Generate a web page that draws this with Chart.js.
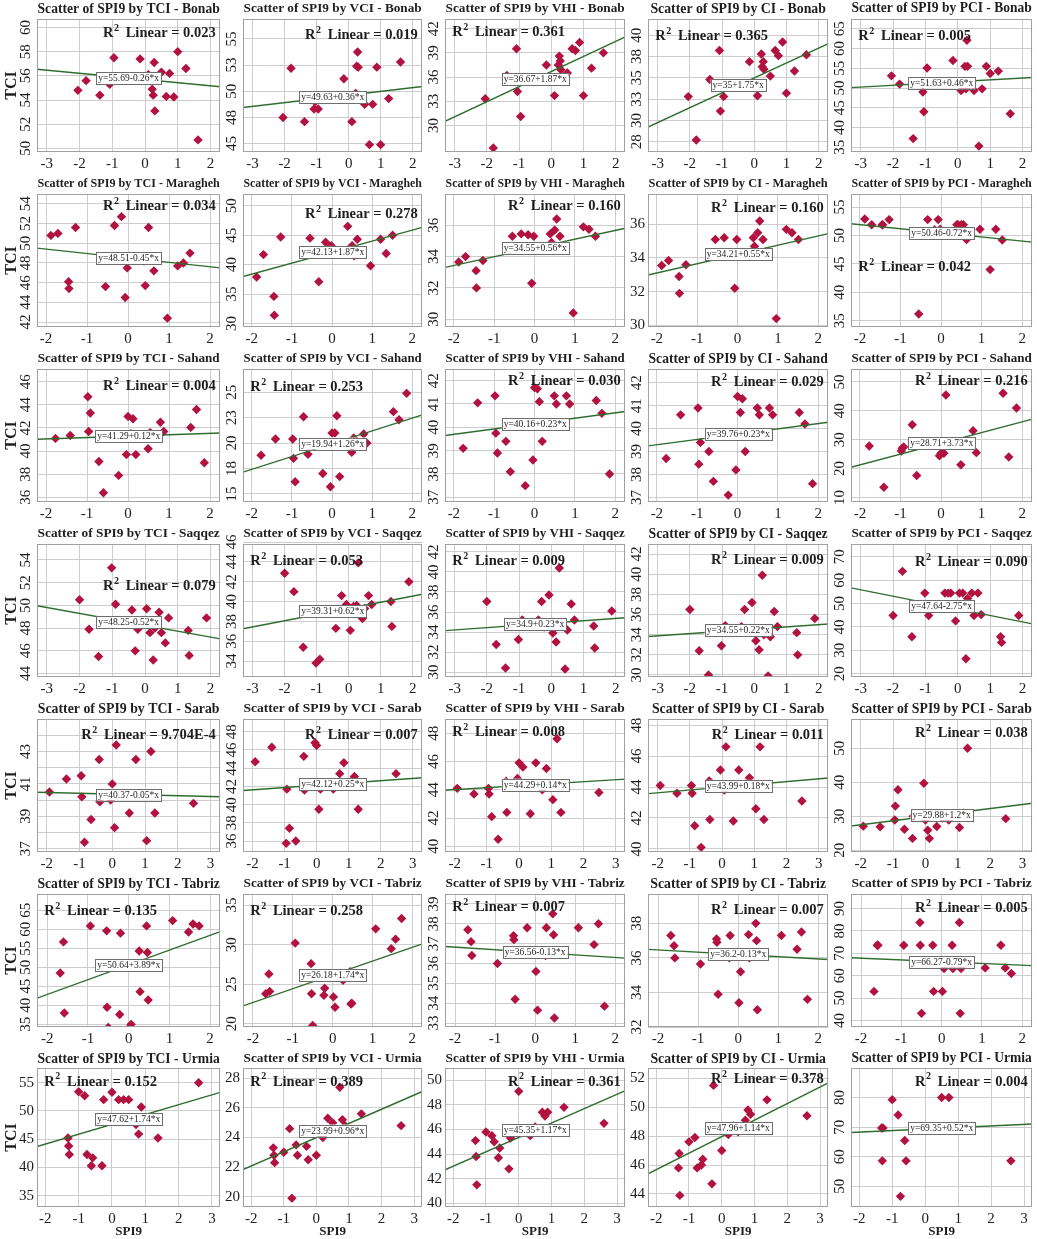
<!DOCTYPE html>
<html>
<head>
<meta charset="utf-8">
<script src="https://cdn.jsdelivr.net/npm/chart.js@4.4.0/dist/chart.umd.min.js"></script>
<style>
  html, body { margin: 0; padding: 0; background: #fff; }
  #grid { position: relative; width: 1037px; height: 1239px; }
  .cell { position: absolute; }
</style>
</head>
<body>
<div id="grid"></div>
<script>
const stations = ['Bonab', 'Maragheh', 'Sahand', 'Saqqez', 'Sarab', 'Tabriz', 'Urmia'];
const indices = ['TCI', 'VCI', 'VHI', 'CI', 'PCI'];

// SPI9 values (x) per station
const spiBonab = [-2.05, -1.8, -1.38, -1.08, -1.05, -0.95, -0.15, 0.1, 0.22, 0.25, 0.28, 0.3, 0.5, 0.65, 0.75, 0.88, 1.0, 1.25, 1.62];
const spiMaragheh = [-1.88, -1.71, -1.45, -1.44, -1.28, -0.55, -0.33, -0.16, -0.07, -0.02, 0.39, 0.42, 0.5, 0.55, 0.63, 0.96, 1.21, 1.35, 1.51];
const spiSahand = [-1.77, -1.41, -0.98, -0.96, -0.92, -0.71, -0.6, -0.23, -0.04, 0.0, 0.07, 0.12, 0.19, 0.49, 0.54, 0.79, 0.87, 1.53, 1.67, 1.86];
const spiSaqqez = [-2.0, -1.71, -1.42, -1.02, -0.9, -0.4, -0.3, -0.22, -0.07, 0.05, 0.15, 0.25, 0.3, 0.43, 0.5, 0.62, 0.72, 1.32, 1.35, 1.88];
const spiSarab = [-1.92, -1.4, -0.95, -0.93, -0.85, -0.65, -0.4, -0.38, -0.05, 0.0, 0.07, 0.12, 0.35, 0.52, 0.72, 0.85, 1.05, 1.18, 1.3, 2.48];
const spiTabriz = [-1.68, -1.6, -1.58, -0.94, -0.54, -0.53, -0.5, -0.22, -0.2, 0.02, 0.06, 0.26, 0.28, 0.44, 0.46, 0.48, 1.08, 1.47, 1.58, 1.73];
const spiUrmia = [-1.32, -1.3, -1.28, -1.0, -0.82, -0.75, -0.62, -0.58, -0.3, -0.25, 0.0, 0.2, 0.35, 0.5, 0.72, 0.8, 0.88, 1.38, 2.6];

// index values (y), same order as the station's SPI9 list
const tciBonab = [54.8, 55.6, 54.4, 55.3, 55.5, 57.5, 57.4, 56.1, 54.9, 54.4, 57.1, 53.1, 56.3, 54.3, 56.2, 54.25, 58.0, 56.6, 50.7];
const vciBonab = [47.5, 52.2, 47.1, 48.3, 49.0, 48.3, 51.2, 47.1, 49.8, 52.4, 53.75, 52.3, 48.75, 44.9, 48.75, 52.3, 44.9, 49.3, 52.8];
const vhiBonab = [33.3, 27.2, 36.2, 39.5, 34.2, 31.1, 37.5, 33.7, 37.5, 38.6, 38.0, 36.9, 36.5, 39.5, 39.3, 40.3, 33.7, 37.1, 39.0];
const ciBonab = [32.8, 27.7, 34.8, 38.2, 31.1, 32.8, 36.9, 32.9, 37.8, 36.3, 36.9, 36.0, 35.2, 38.2, 37.6, 39.2, 33.2, 35.8, 37.7];
const pciBonab = [53.1, 51.0, 37.2, 49.0, 44.0, 55.1, 57.0, 49.4, 55.5, 49.8, 62.1, 55.5, 49.4, 35.3, 49.8, 55.5, 53.7, 54.3, 43.5];

const tciMaragheh = [50.8, 51.0, 46.1, 45.4, 51.6, 45.6, 51.8, 52.7, 44.5, 47.5, 48.2, 45.7, 51.6, 48.3, 47.2, 42.4, 47.7, 48.0, 49.0];
const vciMaragheh = [37.9, 41.7, 34.6, 31.4, 44.7, 44.5, 37.1, 43.8, 42.5, 43.2, 46.5, 42.6, 43.2, 41.5, 44.3, 39.8, 44.3, 41.9, 45.0];
const vhiMaragheh = [33.65, 34.0, 33.1, 32.0, 33.75, 35.3, 35.45, 35.4, 32.3, 35.3, 35.45, 34.9, 35.7, 36.4, 35.3, 30.4, 35.9, 35.75, 35.3];
const ciMaragheh = [33.55, 33.85, 32.9, 31.9, 33.6, 35.1, 35.2, 34.1, 32.2, 35.1, 35.2, 34.7, 35.5, 36.2, 35.1, 30.4, 35.7, 35.5, 35.1];
const pciMaragheh = [52.9, 51.9, 51.9, 51.9, 52.8, 36.2, 52.8, 51.0, 52.8, 51.1, 51.9, 51.9, 51.9, 51.9, 49.3, 51.1, 44.0, 51.1, 49.2];

const tciSahand = [41.1, 41.35, 44.7, 41.7, 43.3, 39.1, 36.4, 37.9, 39.7, 43.0, 41.5, 42.8, 39.7, 40.2, 41.6, 42.5, 41.7, 42.05, 43.6, 39.0];
const vciSahand = [18.8, 20.4, 20.4, 18.5, 16.2, 22.6, 18.9, 17.0, 15.7, 21.0, 21.0, 22.7, 16.7, 19.1, 20.5, 20.9, 20.0, 23.1, 22.3, 24.9];
const vhiSahand = [39.1, 41.05, 41.35, 39.75, 38.9, 39.4, 38.1, 37.5, 38.6, 41.7, 41.65, 41.1, 39.4, 41.35, 41.0, 41.35, 41.0, 41.15, 40.6, 38.0];
const ciSahand = [38.7, 40.6, 40.9, 38.45, 39.4, 39.0, 37.7, 37.1, 38.2, 41.4, 40.7, 41.3, 39.0, 40.9, 40.6, 40.9, 40.6, 40.7, 40.2, 37.6];
const pciSahand = [27.8, 13.5, 26.1, 27.0, 27.5, 35.2, 17.6, 29.0, 24.4, 25.3, 25.3, 45.5, 28.5, 21.3, 28.0, 33.1, 25.5, 46.1, 24.0, 41.0];

const tciSaqqez = [50.5, 47.9, 45.5, 53.3, 50.1, 49.6, 46.0, 47.9, 48.5, 49.7, 47.6, 45.2, 48.0, 49.4, 47.6, 46.7, 48.9, 47.8, 45.6, 48.9];
const vciSaqqez = [42.85, 41.0, 35.4, 33.8, 34.2, 37.3, 39.0, 40.6, 39.7, 37.1, 39.5, 39.6, 43.9, 38.3, 39.3, 40.6, 39.7, 40.0, 37.5, 42.0];
const vhiSaqqez = [37.05, 32.75, 30.4, 33.25, 35.2, 35.2, 37.05, 34.5, 37.7, 33.9, 33.0, 40.4, 34.8, 30.3, 34.2, 36.8, 35.2, 34.6, 32.4, 36.1];
const ciSaqqez = [36.5, 32.4, 30.0, 32.9, 34.9, 34.8, 36.5, 34.4, 37.2, 33.4, 32.5, 39.9, 34.0, 29.9, 33.8, 36.3, 34.8, 34.2, 32.0, 35.6];
const pciSaqqez = [44.9, 63.8, 35.8, 54.5, 44.9, 54.5, 54.5, 54.5, 42.6, 54.5, 54.5, 26.4, 52.2, 54.5, 44.9, 54.5, 45.3, 35.8, 33.4, 44.9];

const tciSarab = [40.5, 41.3, 41.5, 40.2, 37.4, 38.8, 42.5, 39.9, 40.0, 41.0, 38.3, 43.4, 40.3, 39.2, 42.5, 40.4, 37.5, 43.0, 39.2, 39.8];
const vciSarab = [44.7, 46.3, 35.75, 41.7, 37.4, 36.0, 45.3, 41.6, 46.8, 46.5, 39.5, 41.7, 42.3, 41.7, 43.4, 44.6, 42.5, 43.1, 39.5, 43.4];
const vhiSarab = [44.1, 43.7, 44.1, 43.7, 42.1, 40.5, 44.6, 42.4, 44.8, 45.9, 44.5, 45.6, 42.3, 45.9, 44.0, 45.5, 43.3, 47.6, 42.4, 43.8];
const ciSarab = [44.1, 43.6, 44.1, 43.6, 41.5, 40.1, 44.4, 41.9, 45.1, 44.0, 43.8, 46.6, 41.8, 45.1, 44.2, 44.6, 42.6, 46.6, 41.9, 43.1];
const pciSarab = [27.1, 26.9, 28.9, 33.0, 37.8, 26.2, 23.5, 30.0, 39.7, 28.9, 25.9, 23.5, 27.0, 29.5, 28.9, 30.5, 26.7, 31.0, 50.0, 29.3];

const tciTabriz = [48.5, 56.7, 38.0, 60.9, 59.6, 39.5, 34.2, 37.6, 59.0, 34.2, 35.0, 54.3, 43.6, 60.9, 53.9, 41.4, 62.3, 59.3, 61.4, 60.9];
const vciTabriz = [23.8, 26.3, 24.1, 30.2, 27.6, 23.8, 19.8, 23.6, 24.5, 23.4, 22.1, 25.5, 26.0, 26.6, 22.5, 22.6, 32.0, 29.5, 30.7, 33.3];
const vhiTabriz = [37.7, 37.1, 36.4, 36.0, 37.4, 37.2, 34.2, 36.5, 37.8, 35.6, 33.65, 36.4, 37.8, 38.5, 37.45, 33.25, 37.8, 36.95, 38.0, 33.85];
const ciTabriz = [37.3, 36.7, 36.0, 35.65, 37.1, 36.9, 33.9, 36.0, 37.3, 33.4, 35.2, 37.35, 36.0, 38.0, 37.0, 33.0, 37.3, 36.5, 37.5, 33.6];
const pciTabriz = [53.0, 73.6, 73.6, 73.6, 83.8, 73.6, 43.2, 73.6, 53.0, 53.0, 63.2, 73.6, 63.2, 83.8, 43.2, 63.2, 63.5, 73.6, 63.5, 61.0];

const tciUrmia = [45.2, 43.8, 42.3, 53.4, 52.7, 42.3, 40.3, 41.7, 40.3, 52.0, 53.3, 52.0, 52.0, 52.0, 47.6, 45.9, 50.7, 45.2, 55.0];
const vciUrmia = [23.3, 22.8, 22.3, 23.0, 24.6, 19.9, 23.5, 22.8, 23.4, 22.5, 22.8, 24.0, 25.3, 25.0, 27.4, 25.2, 24.8, 25.6, 24.8];
const vhiUrmia = [45.1, 43.8, 41.5, 45.8, 45.5, 45.0, 43.7, 44.5, 42.8, 45.3, 49.1, 46.0, 45.5, 46.2, 47.4, 47.1, 47.4, 47.8, 46.5];
const ciUrmia = [45.8, 46.8, 43.9, 47.6, 47.9, 45.8, 46.0, 46.4, 44.7, 51.5, 47.0, 48.1, 48.7, 48.3, 49.1, 49.8, 49.5, 50.5, 49.4];
const pciUrmia = [69.7, 58.6, 69.7, 79.3, 74.1, 46.6, 65.5, 58.6, 69.7, 69.7, 69.7, 70.0, 69.7, 80.0, 80.0, 69.7, 69.7, 69.7, 58.6];

// linear fits [intercept, slope] and R² text, order TCI, VCI, VHI, CI, PCI
const fitBonab = [[55.69, -0.26], [49.63, 0.36], [36.67, 1.87], [35, 1.75], [51.63, 0.46]];
const fitMaragheh = [[48.51, -0.45], [42.13, 1.87], [34.55, 0.56], [34.21, 0.55], [50.46, -0.72]];
const fitSahand = [[41.29, 0.12], [19.94, 1.26], [40.16, 0.23], [39.76, 0.23], [28.71, 3.73]];
const fitSaqqez = [[48.25, -0.52], [39.31, 0.62], [34.9, 0.23], [34.55, 0.22], [47.64, -2.75]];
const fitSarab = [[40.37, -0.05], [42.12, 0.25], [44.29, 0.14], [43.99, 0.18], [29.88, 1.2]];
const fitTabriz = [[50.64, 3.89], [26.18, 1.74], [36.56, -0.13], [36.2, -0.13], [66.27, -0.79]];
const fitUrmia = [[47.62, 1.74], [23.99, 0.96], [45.35, 1.17], [47.96, 1.14], [69.35, 0.52]];

const r2Bonab = ['0.023', '0.019', '0.361', '0.365', '0.005'];
const r2Maragheh = ['0.034', '0.278', '0.160', '0.160', '0.042'];
const r2Sahand = ['0.004', '0.253', '0.030', '0.029', '0.216'];
const r2Saqqez = ['0.079', '0.053', '0.009', '0.009', '0.090'];
const r2Sarab = ['9.704E-4', '0.007', '0.008', '0.011', '0.038'];
const r2Tabriz = ['0.135', '0.258', '0.007', '0.007', '0.005'];
const r2Urmia = ['0.152', '0.389', '0.361', '0.378', '0.004'];

// axes: x range and ticks per station, y range and ticks per panel
const xRangeBonab = [-3.3, 2.3], xTicksBonab = [-3, -2, -1, 0, 1, 2];
const xRangeMaragheh = [-2.22, 2.25], xTicksMaragheh = [-2, -1, 0, 1, 2];
const xRangeSahand = [-2.22, 2.25], xTicksSahand = [-2, -1, 0, 1, 2];
const xRangeSaqqez = [-3.3, 2.3], xTicksSaqqez = [-3, -2, -1, 0, 1, 2];
const xRangeSarab = [-2.3, 3.3], xTicksSarab = [-2, -1, 0, 1, 2, 3];
const xRangeTabriz = [-2.25, 2.25], xTicksTabriz = [-2, -1, 0, 1, 2];
const xRangeUrmia = [-2.25, 3.25], xTicksUrmia = [-2, -1, 0, 1, 2, 3];

const yRangeBonab = [[49.7, 60.7], [44.2, 56.9], [26.7, 43.2], [26.3, 41.9], [33.8, 67.5]];
const yRangeMaragheh = [[41.5, 55], [29.4, 52], [29.5, 38], [29.9, 37.8], [33.9, 57.3]];
const yRangeSahand = [[35.6, 47.1], [14.2, 27.3], [36.8, 42.5], [36.8, 42.6], [8.4, 54.5]];
const yRangeSaqqez = [[43.7, 55.4], [32.4, 45.8], [29.5, 42.8], [29.8, 43], [18.6, 75.5]];
const yRangeSarab = [[36.8, 45], [34.8, 49.4], [39.6, 49], [39.8, 48.4], [19.5, 58.6]];
const yRangeTabriz = [[34.3, 69.3], [19.6, 36.4], [32.8, 39.5], [32.0, 39.7], [37.1, 96.5]];
const yRangeUrmia = [[33, 57.6], [19.3, 28.7], [39.7, 51], [43.1, 52.7], [43, 90]];

const yTicksBonab = [[50, 52, 54, 56, 58, 60], [45, 47.5, 50, 52.5, 55], [30, 33, 36, 39, 42], [27.5, 30, 32.5, 35, 37.5, 40], [35, 40, 45, 50, 55, 60, 65]];
const yTicksMaragheh = [[42, 44, 46, 48, 50, 52, 54], [30, 35, 40, 45, 50], [30, 32, 34, 36], [30, 32, 34, 36], [35, 40, 45, 50, 55]];
const yTicksSahand = [[36, 38, 40, 42, 44, 46], [15, 17.5, 20, 22.5, 25], [37, 38, 39, 40, 41, 42], [37, 38, 39, 40, 41, 42], [10, 20, 30, 40, 50]];
const yTicksSaqqez = [[44, 46, 48, 50, 52, 54], [34, 36, 38, 40, 42, 44, 46], [30, 32, 34, 36, 38, 40, 42], [30, 32, 34, 36, 38, 40, 42], [20, 30, 40, 50, 60, 70]];
const yTicksSarab = [[37, 38, 39, 40, 41, 42, 43, 44], [36, 38, 40, 42, 44, 46, 48], [40, 42, 44, 46, 48], [40, 42, 44, 46, 48], [20, 30, 40, 50]];
const yTicksTabriz = [[35, 40, 45, 50, 55, 60, 65], [20, 25, 30, 35], [33, 34, 35, 36, 37, 38, 39], [32, 34, 36, 38], [40, 50, 60, 70, 80, 90]];
const yTicksUrmia = [[35, 40, 45, 50, 55], [20, 22, 24, 26, 28], [40, 42, 44, 46, 48, 50], [44, 46, 48, 50, 52], [50, 60, 70, 80]];

const spiData = { Bonab: spiBonab, Maragheh: spiMaragheh, Sahand: spiSahand, Saqqez: spiSaqqez, Sarab: spiSarab, Tabriz: spiTabriz, Urmia: spiUrmia };
const indexData = {
    Bonab: [tciBonab, vciBonab, vhiBonab, ciBonab, pciBonab],
    Maragheh: [tciMaragheh, vciMaragheh, vhiMaragheh, ciMaragheh, pciMaragheh],
    Sahand: [tciSahand, vciSahand, vhiSahand, ciSahand, pciSahand],
    Saqqez: [tciSaqqez, vciSaqqez, vhiSaqqez, ciSaqqez, pciSaqqez],
    Sarab: [tciSarab, vciSarab, vhiSarab, ciSarab, pciSarab],
    Tabriz: [tciTabriz, vciTabriz, vhiTabriz, ciTabriz, pciTabriz],
    Urmia: [tciUrmia, vciUrmia, vhiUrmia, ciUrmia, pciUrmia]
};
const fits = { Bonab: fitBonab, Maragheh: fitMaragheh, Sahand: fitSahand, Saqqez: fitSaqqez, Sarab: fitSarab, Tabriz: fitTabriz, Urmia: fitUrmia };
const r2 = { Bonab: r2Bonab, Maragheh: r2Maragheh, Sahand: r2Sahand, Saqqez: r2Saqqez, Sarab: r2Sarab, Tabriz: r2Tabriz, Urmia: r2Urmia };
const xRange = { Bonab: xRangeBonab, Maragheh: xRangeMaragheh, Sahand: xRangeSahand, Saqqez: xRangeSaqqez, Sarab: xRangeSarab, Tabriz: xRangeTabriz, Urmia: xRangeUrmia };
const xTicks = { Bonab: xTicksBonab, Maragheh: xTicksMaragheh, Sahand: xTicksSahand, Saqqez: xTicksSaqqez, Sarab: xTicksSarab, Tabriz: xTicksTabriz, Urmia: xTicksUrmia };
const yRange = { Bonab: yRangeBonab, Maragheh: yRangeMaragheh, Sahand: yRangeSahand, Saqqez: yRangeSaqqez, Sarab: yRangeSarab, Tabriz: yRangeTabriz, Urmia: yRangeUrmia };
const yTicks = { Bonab: yTicksBonab, Maragheh: yTicksMaragheh, Sahand: yTicksSahand, Saqqez: yTicksSaqqez, Sarab: yTicksSarab, Tabriz: yTicksTabriz, Urmia: yTicksUrmia };

// layout: where the R² label sits (side of plot, fraction from top)
const r2Pos = {
    Bonab: [['R', .11], ['R', .12], ['L', .1], ['L', .13], ['L', .13]],
    Maragheh: [['R', .09], ['R', .15], ['R', .09], ['R', .11], ['L', .55]],
    Sahand: [['R', .13], ['L', .14], ['R', .09], ['R', .1], ['R', .09]],
    Saqqez: [['R', .32], ['L', .13], ['L', .13], ['R', .12], ['R', .14]],
    Sarab: [['R', .12], ['R', .12], ['L', .1], ['R', .12], ['R', .11]],
    Tabriz: [['L', .13], ['L', .13], ['L', .1], ['R', .12], ['R', .11]],
    Urmia: [['L', .1], ['L', .1], ['R', .1], ['R', .08], ['R', .1]]
};
const uprightTicks = { Maragheh: [3], Urmia: [0, 1, 2, 3] };

const colLeft = [0, 225, 427, 630, 833];
const colWidth = [225, 202, 203, 203, 204];
const axisWidth = [37, 18, 18, 18, 18];
const rightPad = [3, 2, 3, 3, 4];
const SERIF = '"Liberation Serif", "Times New Roman", serif';
const TEXT = '#1e1e1e';
const GRID = '#cdcdcd';

function eqText(a, b) {
    return 'y=' + a + (b < 0 ? '-' : '+') + Math.abs(b) + '*x';
}

const decor = {
    id: 'decor',
    afterDraw(chart, args, opts) {
        const { ctx, chartArea: ca, scales } = chart;
        ctx.save();
        // frame
        ctx.strokeStyle = '#a0a0a0';
        ctx.lineWidth = 1;
        ctx.strokeRect(Math.round(ca.left) + 0.5, Math.round(ca.top) + 0.5, Math.round(ca.width) - 1, Math.round(ca.height) - 1);

        // title, shrunk to fit the plot width
        let size = 13.8;
        ctx.font = 'bold ' + size + 'px ' + SERIF;
        const tw = ctx.measureText(opts.title).width;
        if (tw > ca.width - 1) size = size * (ca.width - 1) / tw;
        ctx.font = 'bold ' + size + 'px ' + SERIF;
        ctx.fillStyle = TEXT;
        ctx.textAlign = 'center';
        ctx.textBaseline = 'middle';
        ctx.fillText(opts.title, (ca.left + ca.right) / 2, 9);

        // equation box on the fit line
        const [xmin, xmax] = opts.xr;
        const xm = (xmin + xmax) / 2;
        const px = scales.x.getPixelForValue(xm);
        const py = scales.y.getPixelForValue(opts.a + opts.b * xm);
        ctx.font = '9.5px ' + SERIF;
        const txt = eqText(opts.a, opts.b);
        const w = ctx.measureText(txt).width;
        ctx.fillStyle = '#fff';
        ctx.fillRect(px - w / 2 - 2, py - 6, w + 4, 12);
        ctx.strokeStyle = '#6e6e6e';
        ctx.strokeRect(Math.round(px - w / 2 - 2) + 0.5, Math.round(py - 6) + 0.5, Math.round(w + 4), 12);
        ctx.fillStyle = TEXT;
        ctx.fillText(txt, px, py + 0.5);

        // R² label
        const big = 'bold 14.5px ' + SERIF, small = 'bold 10px ' + SERIF;
        const rest = '  Linear = ' + opts.r2;
        ctx.font = big; const wR = ctx.measureText('R').width; const wRest = ctx.measureText(rest).width;
        ctx.font = small; const w2 = ctx.measureText('2').width;
        const total = wR + w2 + wRest;
        const [side, fy] = opts.pos;
        const x0 = side === 'R' ? ca.left + ca.width * 0.975 - total : ca.left + ca.width * 0.04;
        const y0 = ca.top + ca.height * fy;
        ctx.textAlign = 'left';
        ctx.textBaseline = 'middle';
        ctx.font = big; ctx.fillText('R', x0, y0);
        ctx.font = small; ctx.fillText('2', x0 + wR + 0.5, y0 - 5);
        ctx.font = big; ctx.fillText(rest, x0 + wR + w2, y0);
        ctx.restore();
    }
};

const grid = document.getElementById('grid');

stations.forEach((st, row) => {
    indices.forEach((idx, col) => {
        const h = row === 6 ? 189 : 175;
        const box = document.createElement('div');
        box.className = 'cell';
        box.style.left = colLeft[col] + 'px';
        box.style.top = (row * 175) + 'px';
        box.style.width = colWidth[col] + 'px';
        box.style.height = h + 'px';
        const cv = document.createElement('canvas');
        cv.width = colWidth[col];
        cv.height = h;
        box.appendChild(cv);
        grid.appendChild(box);

        const xs = spiData[st];
        const ys = indexData[st][col];
        const pts = xs.map((x, k) => ({ x: x, y: ys[k] }));
        const [a, b] = fits[st][col];
        const [xmin, xmax] = xRange[st];
        const line = [{ x: xmin, y: a + b * xmin }, { x: xmax, y: a + b * xmax }];
        const upright = (uprightTicks[st] || []).includes(col);
        const sparse = st === 'Sarab' && col === 0;
        const yt = yTicks[st][col];

        new Chart(cv, {
            type: 'scatter',
            data: {
                datasets: [
                    {
                        data: line, showLine: true, borderColor: '#2f6d2f', borderWidth: 1.4,
                        pointRadius: 0, order: 1
                    },
                    {
                        data: pts, pointStyle: 'rectRot', pointRadius: 4.7, pointHoverRadius: 4.7,
                        backgroundColor: '#b1123f', borderColor: '#b1123f', borderWidth: 0, order: 2
                    }
                ]
            },
            options: {
                responsive: false,
                animation: false,
                devicePixelRatio: 1,
                events: [],
                layout: { padding: { top: row === 6 ? 18 : 19, right: rightPad[col], left: 0, bottom: 0 } },
                plugins: {
                    legend: { display: false },
                    tooltip: { enabled: false },
                    decor: { title: 'Scatter of SPI9 by ' + idx + ' - ' + st, a: a, b: b, xr: xRange[st], r2: r2[st][col], pos: r2Pos[st][col] }
                },
                scales: {
                    x: {
                        type: 'linear', min: xmin, max: xmax,
                        afterBuildTicks: s => { s.ticks = xTicks[st].map(v => ({ value: v })); },
                        afterFit: s => { s.height = row === 6 ? 32 : 23; },
                        grid: { color: GRID, drawTicks: false },
                        border: { display: false },
                        ticks: {
                            font: { family: SERIF, size: 15 }, color: TEXT, padding: 3,
                            maxRotation: 0, autoSkip: false, callback: v => String(v)
                        },
                        title: {
                            display: row === 6, text: 'SPI9', color: TEXT,
                            font: { family: SERIF, size: 13, weight: 'bold' }, padding: { top: 0, bottom: 0 }
                        }
                    },
                    y: {
                        type: 'linear', min: yRange[st][col][0], max: yRange[st][col][1],
                        afterBuildTicks: s => { s.ticks = yt.map(v => ({ value: v })); },
                        afterFit: s => { s.width = axisWidth[col]; },
                        grid: { color: GRID, drawTicks: false },
                        border: { display: false },
                        ticks: {
                            font: { family: SERIF, size: 15 }, color: TEXT, padding: 3,
                            minRotation: upright ? 0 : 90, maxRotation: upright ? 0 : 90,
                            crossAlign: upright ? 'near' : 'center', autoSkip: false,
                            callback: v => (sparse && Math.round(v) % 2 === 0) ? '' : String(Math.round(v))
                        },
                        title: {
                            display: col === 0, text: 'TCI', color: TEXT,
                            font: { family: SERIF, size: 16, weight: 'bold' }, padding: { top: 2, bottom: 0 }
                        }
                    }
                }
            },
            plugins: [decor]
        });
    });
});
</script>
</body>
</html>
